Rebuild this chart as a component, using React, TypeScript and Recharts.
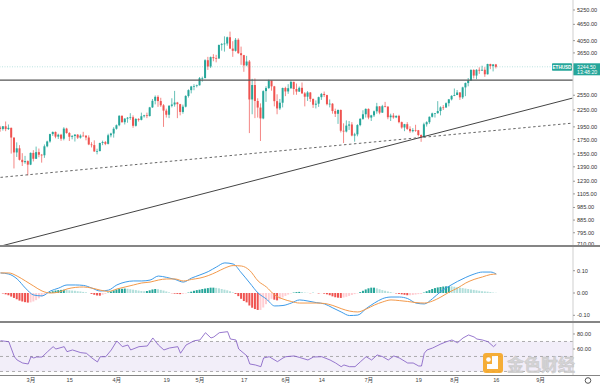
import React from 'react';
import { ComposedChart, Bar, Line, XAxis, YAxis, ReferenceLine, ReferenceArea, Cell } from 'recharts';

const FONT = '"Liberation Sans", "Noto Sans CJK SC", Arial, sans-serif';
const UP = '#26a69a';
const DOWN = '#ef5350';

// ETHUSD daily candles, index 0 = 18 Feb 2021 ... index 179 = 16 Aug 2021
const opens = [
  1939,1916,1960,1914,1934,1781,1570,1626,1475,1446,
  1459,1416,1564,1488,1574,1540,1533,1654,1723,1834,
  1868,1795,1824,1764,1922,1851,1793,1805,1825,1780,
  1810,1808,1782,1680,1671,1583,1588,1701,1714,1689,
  1816,1843,1919,1977,2143,2029,2091,2107,2116,1968,
  2085,2070,2134,2151,2137,2300,2432,2515,2427,2341,
  2238,2161,2331,2357,2397,2364,2213,2314,2534,2662,
  2746,2757,2773,2945,2948,3431,3252,3522,3490,3481,
  3902,3927,3952,4168,3785,3715,4079,3640,3581,3283,
  3393,2460,2780,2429,2297,2095,2640,2709,2887,2749,
  2425,2280,2393,2711,2633,2706,2856,2688,2630,2715,
  2590,2518,2610,2471,2353,2373,2508,2578,2553,2364,
  2373,2230,2179,2250,1887,1875,1971,1990,1812,1830,
  1980,2087,2170,2271,2110,2150,2225,2320,2200,2323,
  2316,2116,2146,2113,2140,2030,1940,1995,1917,1880,
  1898,1895,1820,1788,1993,2029,2124,2186,2190,2230,
  2300,2299,2383,2462,2536,2555,2610,2504,2725,2827,
  2890,3158,3012,3163,3141,3164,3045,3322,3265,3310,
];
const highs = [
  1966,1964,2041,1990,1938,1782,1710,1670,1560,1525,
  1468,1570,1600,1650,1623,1550,1680,1735,1840,1875,
  1875,1840,1838,1945,1935,1865,1820,1835,1835,1830,
  1870,1820,1815,1712,1740,1620,1705,1735,1730,1840,
  1855,1945,1990,2150,2145,2100,2120,2190,2150,2100,
  2100,2200,2160,2200,2310,2470,2545,2550,2495,2365,
  2275,2345,2485,2645,2410,2370,2355,2550,2680,2760,
  2800,2790,2975,2985,3460,3530,3540,3610,3590,3920,
  3970,4200,4190,4372,4030,4140,4130,3850,3590,3560,
  3437,2930,2940,2485,2380,2660,2750,2910,2890,2760,
  2570,2470,2720,2740,2800,2890,2860,2815,2745,2840,
  2620,2640,2620,2480,2440,2520,2600,2630,2560,2460,
  2385,2275,2260,2260,2010,2060,2050,2030,1855,1995,
  2100,2245,2280,2280,2160,2240,2390,2325,2350,2410,
  2318,2180,2190,2150,2160,2040,2000,2030,1960,1930,
  1985,1900,1830,2020,2045,2130,2200,2190,2425,2320,
  2345,2400,2470,2550,2700,2665,2620,2740,2840,2950,
  3180,3180,3180,3230,3275,3235,3330,3330,3320,3325,
];
const lows = [
  1872,1890,1880,1900,1555,1371,1511,1467,1400,1426,
  1293,1410,1455,1485,1507,1440,1500,1640,1705,1806,
  1770,1760,1733,1740,1840,1730,1755,1722,1760,1765,
  1800,1740,1670,1638,1580,1545,1585,1670,1670,1680,
  1785,1780,1905,1960,2020,1990,2020,2070,1935,1955,
  2040,2060,2110,2100,2130,2290,2360,2310,2310,1950,
  2110,2100,2300,2315,2100,2150,2180,2300,2500,2590,
  2660,2725,2770,2860,2945,3160,3210,3400,3370,3475,
  3720,3690,3880,3780,3530,3690,3625,3300,3110,3260,
  1850,2170,2100,2110,1730,2080,2410,2690,2650,2320,
  2170,2250,2300,2530,2580,2690,2560,2560,2620,2580,
  2320,2430,2410,2290,2280,2310,2450,2510,2340,2300,
  2180,2120,2000,1860,1700,1860,1900,1800,1720,1800,
  1960,2070,2110,2080,2050,2120,2180,2170,2195,2300,
  2080,2050,2090,2100,2010,1920,1880,1900,1855,1860,
  1870,1800,1718,1785,1955,2000,2110,2110,2180,2150,
  2250,2290,2320,2440,2530,2550,2450,2470,2530,2750,
  2880,2940,2920,3055,3140,2980,3040,3180,3120,3200,
];
const closes = [
  1916,1960,1914,1934,1781,1570,1626,1475,1446,1459,
  1416,1564,1488,1574,1540,1533,1654,1723,1834,1868,
  1795,1824,1764,1922,1851,1793,1805,1825,1780,1810,
  1808,1782,1680,1671,1583,1588,1701,1714,1689,1816,
  1843,1919,1977,2143,2029,2091,2107,2116,1968,2085,
  2070,2134,2151,2137,2300,2432,2515,2427,2341,2238,
  2161,2331,2357,2397,2364,2213,2314,2534,2662,2746,
  2757,2773,2945,2948,3431,3252,3522,3490,3481,3902,
  3927,3952,4168,3785,3715,4079,3640,3581,3283,3393,
  2460,2780,2429,2297,2095,2640,2709,2887,2749,2425,
  2280,2393,2711,2633,2706,2856,2688,2630,2715,2590,
  2518,2610,2471,2353,2373,2508,2578,2553,2364,2373,
  2230,2179,2250,1887,1875,1971,1990,1812,1830,1980,
  2087,2170,2271,2110,2150,2225,2320,2200,2323,2316,
  2116,2146,2113,2140,2030,1940,1995,1917,1880,1898,
  1895,1820,1788,1993,2029,2124,2186,2190,2230,2300,
  2299,2383,2462,2536,2555,2610,2504,2725,2827,2890,
  3158,3012,3163,3141,3164,3045,3322,3265,3310,3244.5,
];

const lastPrice = 3244.5;
const countdown = '13:48:20';
const symbol = 'ETHUSD';
const resistanceLevel = 2900;

// drawn trend lines: [day index, price]
const solidTrend = [[0.6, 712], [206.5, 2488]];
const dashedTrend = [[0, 1271], [206.5, 2013]];

const priceTicks = [710, 795, 885, 985, 1105, 1230, 1390, 1550, 1750, 1950, 2250, 2550, 3650, 4050, 4650, 5250];

// MACD (sampled) and signal
const macdT = [0,3,6,9,12,15,18,21,24,27,30,33,36,39,42,45,48,51,54,57,60,63,66,69,72,75,78,81,84,87,90,93,96,99,102,105,108,111,114,117,120,123,126,129,132,135,138,141,144,147,150,153,156,159,162,165,168,171,174,177,179];
const macdLine = [0.09,0.085,0.063,0.022,-0.009,-0.013,0.009,0.022,0.036,0.036,0.034,0.022,0.009,0.013,0.036,0.049,0.054,0.054,0.058,0.076,0.07,0.061,0.049,0.067,0.081,0.096,0.117,0.135,0.13,0.09,0.045,0,-0.027,-0.058,-0.056,-0.045,-0.031,-0.036,-0.043,-0.049,-0.067,-0.085,-0.101,-0.099,-0.07,-0.045,-0.025,-0.018,-0.018,-0.025,-0.045,-0.049,-0.025,0.007,0.031,0.052,0.07,0.085,0.094,0.094,0.085];
const signalLine = [0.09,0.09,0.076,0.054,0.031,0.009,0,0.004,0.018,0.025,0.027,0.022,0.013,0.007,0.018,0.027,0.036,0.045,0.049,0.058,0.063,0.063,0.054,0.061,0.067,0.078,0.094,0.112,0.123,0.121,0.101,0.054,0.027,-0.009,-0.027,-0.038,-0.045,-0.045,-0.045,-0.047,-0.056,-0.07,-0.081,-0.085,-0.072,-0.054,-0.04,-0.031,-0.034,-0.038,-0.043,-0.045,-0.036,-0.018,0.004,0.022,0.045,0.061,0.072,0.083,0.085];
const histogram = [
  0,-0.002,-0.006,-0.01,-0.016,-0.022,-0.028,-0.034,-0.038,-0.041,
  -0.043,-0.042,-0.038,-0.032,-0.024,-0.016,-0.008,0,0.004,0.008,
  0.011,0.013,0.014,0.015,0.014,0.012,0.011,0.01,0.008,0.007,
  0.005,0.003,0,-0.004,-0.008,-0.011,-0.012,-0.008,-0.004,0.002,
  0.007,0.012,0.016,0.018,0.019,0.02,0.019,0.017,0.015,0.013,
  0.011,0.009,0.008,0.009,0.012,0.016,0.018,0.017,0.014,0.011,
  0.007,0.003,-0.001,-0.003,-0.004,-0.005,-0.004,-0.002,0.002,0.006,
  0.01,0.013,0.015,0.018,0.02,0.022,0.024,0.024,0.023,0.021,
  0.018,0.015,0.012,0.008,0.003,-0.004,-0.014,-0.026,-0.036,-0.042,
  -0.056,-0.066,-0.072,-0.076,-0.076,-0.065,-0.05,-0.035,-0.026,-0.03,
  -0.033,-0.028,-0.02,-0.013,-0.007,-0.002,0.002,0.004,0.005,0.004,
  0.002,0.001,-0.001,0.001,0,-0.002,-0.001,-0.003,-0.006,-0.01,
  -0.015,-0.019,-0.021,-0.022,-0.02,-0.017,-0.013,-0.009,-0.005,-0.002,
  0.004,0.01,0.016,0.021,0.024,0.024,0.021,0.017,0.013,0.01,
  0.007,0.004,0.001,-0.002,-0.004,-0.006,-0.008,-0.01,-0.01,-0.009,
  -0.007,-0.005,-0.004,0.002,0.008,0.013,0.018,0.022,0.025,0.027,
  0.029,0.03,0.031,0.03,0.028,0.026,0.024,0.022,0.02,0.018,
  0.016,0.014,0.012,0.01,0.008,0.007,0.006,0.004,0.002,0.001,
];
const macdTicks = [-0.1, 0, 0.1];

// RSI (sampled)
const rsiT = [0,3,5,6,8,10,11,12,13,15,17,19,20,23,24,26,29,31,33,35,36,38,40,42,44,46,47,50,53,55,57,59,61,64,65,67,70,72,74,76,77,79,82,83,85,86,89,90,92,94,95,97,100,102,103,106,108,111,113,116,119,121,123,124,126,128,130,132,134,136,138,140,142,144,147,149,151,152,153,154,156,159,161,163,165,167,169,171,172,174,176,178,179];
const rsiV = [71.1,69.7,49.7,45.3,41.3,40,49.7,48,49.3,49.3,56.4,63.1,60,63.1,56.4,58.7,55.1,54.3,48,42.7,49.7,49.7,58.7,70.7,63.1,65.3,58.7,63.1,64,74.7,65.3,58.7,61.3,63.1,54.3,65.3,71.1,72,81.7,74.7,76,81.7,83.1,73.3,72,60,50.7,40,38.7,36.4,48,49.7,43.1,48,49.7,50.7,48.7,45.3,49.3,49.7,45.3,41.3,36.4,38.7,36.4,36.4,43.1,49.7,45.3,52,49.7,45.3,50.7,48,41.3,41.3,37.3,37.3,54.3,58.7,61.3,66.7,69.7,72,68.4,74.7,78.7,76,73.3,72,69.7,63.1,66.4];
const rsiTicks = [60, 80];
const rsiLevels = [30, 50, 70];

// time axis
const dateTickPos = [11, 25, 42, 60, 72, 88, 103, 116, 133, 151, 164, 179, 195];
const dateTickLabels = ['3月', '15', '4月', '19', '5月', '17', '6月', '14', '7月', '19', '8月', '16', '9月'];

// layout
const T_MIN = -0.18;
const T_MAX = 206.7;
const AXIS_W = 27;
const margin = { top: 0, right: 0, bottom: 0, left: 0 };

const candleRows = opens.map((o, i) => ({
  t: i, open: o, high: highs[i], low: lows[i], close: closes[i], range: [lows[i], highs[i]],
}));

const macdRows = histogram.map((h, i) => {
  const k = macdT.indexOf(i);
  const prev = i > 0 ? histogram[i - 1] : h;
  const color = h >= 0 ? (h >= prev ? '#26a69a' : '#b2dfdb') : (h < prev ? '#ef5350' : '#ffcdd2');
  return { t: i, hist: h, color, macd: k >= 0 ? macdLine[k] : undefined, signal: k >= 0 ? signalLine[k] : undefined };
});

const rsiRows = closes.map((_, i) => {
  const k = rsiT.indexOf(i);
  return { t: i, rsi: k >= 0 ? rsiV[k] : undefined };
});

const Candle = (props: any) => {
  const { x, y, width, height, payload } = props;
  if (!payload || x == null || y == null) return null;
  const { open, close, high, low } = payload;
  const color = close >= open ? UP : DOWN;
  const top = Math.min(y, y + height);
  const bot = Math.max(y, y + height);
  const lh = Math.log(high);
  const span = lh - Math.log(low) || 1;
  const py = (p: number) => top + ((lh - Math.log(p)) / span) * (bot - top);
  const cx = x + width / 2;
  const bTop = py(Math.max(open, close));
  const bBot = py(Math.min(open, close));
  return (
    <g>
      <line x1={cx} x2={cx} y1={top} y2={bot} stroke={color} strokeWidth={0.7} />
      <rect x={x} y={bTop} width={width} height={Math.max(bBot - bTop, 0.7)} fill={color} />
    </g>
  );
};

const PriceTag = (props: any) => {
  const vb = props.viewBox;
  if (!vb) return null;
  const right = vb.x + vb.width;
  const cy = vb.y;
  return (
    <g style={{ fontFamily: FONT }}>
      <rect x={right - 21} y={cy - 3.5} width={20} height={7.5} fill={UP} rx={0.8} />
      <text x={right - 11} y={cy + 2.2} fontSize={4.6} fontWeight="bold" fill="#fff" textAnchor="middle">{symbol}</text>
      <rect x={right} y={cy - 3.5} width={AXIS_W} height={12} fill={UP} />
      <text x={right + 4} y={cy + 1.8} fontSize={5.2} fill="#fff">{lastPrice.toFixed(2)}</text>
      <text x={right + 4} y={cy + 7.3} fontSize={5.2} fill="#fff">{countdown}</text>
    </g>
  );
};

const axisTick = { fontSize: 5.6, fill: '#333', fontFamily: FONT };

const PriceTick = (props: any) => {
  const { x, y, payload } = props;
  const lowest = payload.value === priceTicks[0];
  return (
    <text x={x + 2} y={lowest ? y - 2.2 : y} dy={2} fontSize={5.6} fill="#333" style={{ fontFamily: FONT }}>
      {Number(payload.value).toFixed(2)}
    </text>
  );
};

const Sep = ({ top }: { top: number }) => (
  <div style={{ position: 'absolute', left: 0, top, width: 600, height: 1.4, background: '#858585' }} />
);

export default function App() {
  return (
    <div style={{ position: 'absolute', left: 0, top: 0, width: 600, height: 386, background: '#fff', overflow: 'hidden' }}>
      <div style={{ position: 'absolute', left: 0, top: 0 }}>
        <ComposedChart width={600} height={246} data={candleRows} margin={margin}>
          <XAxis dataKey="t" type="number" domain={[T_MIN, T_MAX]} hide allowDataOverflow />
          <YAxis orientation="right" scale="log" domain={[710.5, 5715]} allowDataOverflow ticks={priceTicks}
            interval={0} width={AXIS_W} tick={<PriceTick />} tickSize={2} tickMargin={0}
            axisLine={{ stroke: '#cfcfcf' }} tickLine={{ stroke: '#999' }} />
          <ReferenceLine y={lastPrice} stroke={UP} strokeOpacity={0.3} strokeDasharray="1 1.5" label={<PriceTag />} />
          <ReferenceLine y={resistanceLevel} stroke="#555" strokeWidth={1.3} />
          <ReferenceLine segment={[{ x: solidTrend[0][0], y: solidTrend[0][1] }, { x: solidTrend[1][0], y: solidTrend[1][1] }]} stroke="#444" strokeWidth={1} />
          <ReferenceLine segment={[{ x: dashedTrend[0][0], y: dashedTrend[0][1] }, { x: dashedTrend[1][0], y: dashedTrend[1][1] }]} stroke="#555" strokeWidth={0.9} strokeDasharray="2.5 2.5" />
          <Bar dataKey="range" barSize={2} shape={<Candle />} isAnimationActive={false} />
        </ComposedChart>
      </div>
      <div style={{ position: 'absolute', left: 0, top: 246 }}>
        <ComposedChart width={600} height={76} data={macdRows} margin={margin}>
          <XAxis dataKey="t" type="number" domain={[T_MIN, T_MAX]} hide allowDataOverflow />
          <YAxis orientation="right" domain={[-0.13, 0.2108]} allowDataOverflow ticks={macdTicks} interval={0}
            width={AXIS_W} tick={axisTick} tickSize={2} tickMargin={2}
            tickFormatter={(v: number) => v.toFixed(2)} axisLine={{ stroke: '#cfcfcf' }} tickLine={{ stroke: '#999' }} />
          <Bar dataKey="hist" barSize={2} isAnimationActive={false}>
            {macdRows.map((r, i) => <Cell key={i} fill={r.color} />)}
          </Bar>
          <Line dataKey="macd" type="monotone" connectNulls dot={false} stroke="#3d9be9" strokeWidth={1} isAnimationActive={false} />
          <Line dataKey="signal" type="monotone" connectNulls dot={false} stroke="#f39a4c" strokeWidth={1} isAnimationActive={false} />
        </ComposedChart>
      </div>
      <div style={{ position: 'absolute', left: 0, top: 322 }}>
        <ComposedChart width={600} height={64} data={rsiRows} margin={margin}>
          <XAxis dataKey="t" type="number" domain={[T_MIN, T_MAX]} allowDataOverflow ticks={dateTickPos} interval={0}
            height={11} tick={{ ...axisTick, fill: '#444' }} tickSize={0} tickMargin={3} axisLine={false}
            tickFormatter={(v: number) => dateTickLabels[dateTickPos.indexOf(v)] ?? ''} />
          <YAxis orientation="right" domain={[25.3, 96]} allowDataOverflow ticks={rsiTicks} interval={0}
            width={AXIS_W} tick={axisTick} tickSize={2} tickMargin={2}
            tickFormatter={(v: number) => v.toFixed(2)} axisLine={{ stroke: '#cfcfcf' }} tickLine={{ stroke: '#999' }} />
          <ReferenceArea y1={rsiLevels[0]} y2={rsiLevels[2]} fill="#7e57c2" fillOpacity={0.1} stroke="none" />
          {rsiLevels.map((lv) => (
            <ReferenceLine key={lv} y={lv} stroke="#9a9a9a" strokeDasharray="3 3" strokeWidth={0.8} />
          ))}
          <Line dataKey="rsi" type="linear" connectNulls dot={false} stroke="#7e57c2" strokeWidth={0.8} isAnimationActive={false} />
        </ComposedChart>
      </div>
      <Sep top={245.3} />
      <Sep top={321.3} />
      <Sep top={374.5} />
      <svg style={{ position: 'absolute', left: 0, top: 0 }} width={600} height={386}>
        <g opacity={0.9}>
          <rect x={483} y={353} width={20} height={20} rx={3} fill="#f6a623" />
          <rect x={492} y={356} width={6} height={12} fill="#fff" />
          <rect x={487} y={364} width={11} height={5} fill="#fff" />
          <circle cx={488.5} cy={359.5} r={2.3} fill="#fff" />
          <text x={507} y={371} fontSize={17} fontWeight="bold" fill="#d2d2d2" stroke="#bdbdbd" strokeWidth={0.4}
            style={{ fontFamily: '"Noto Sans CJK SC", sans-serif' }}>金色财经</text>
        </g>
        <circle cx={588} cy={380.5} r={2.8} fill="none" stroke="#555" strokeWidth={1} />
      </svg>
    </div>
  );
}
